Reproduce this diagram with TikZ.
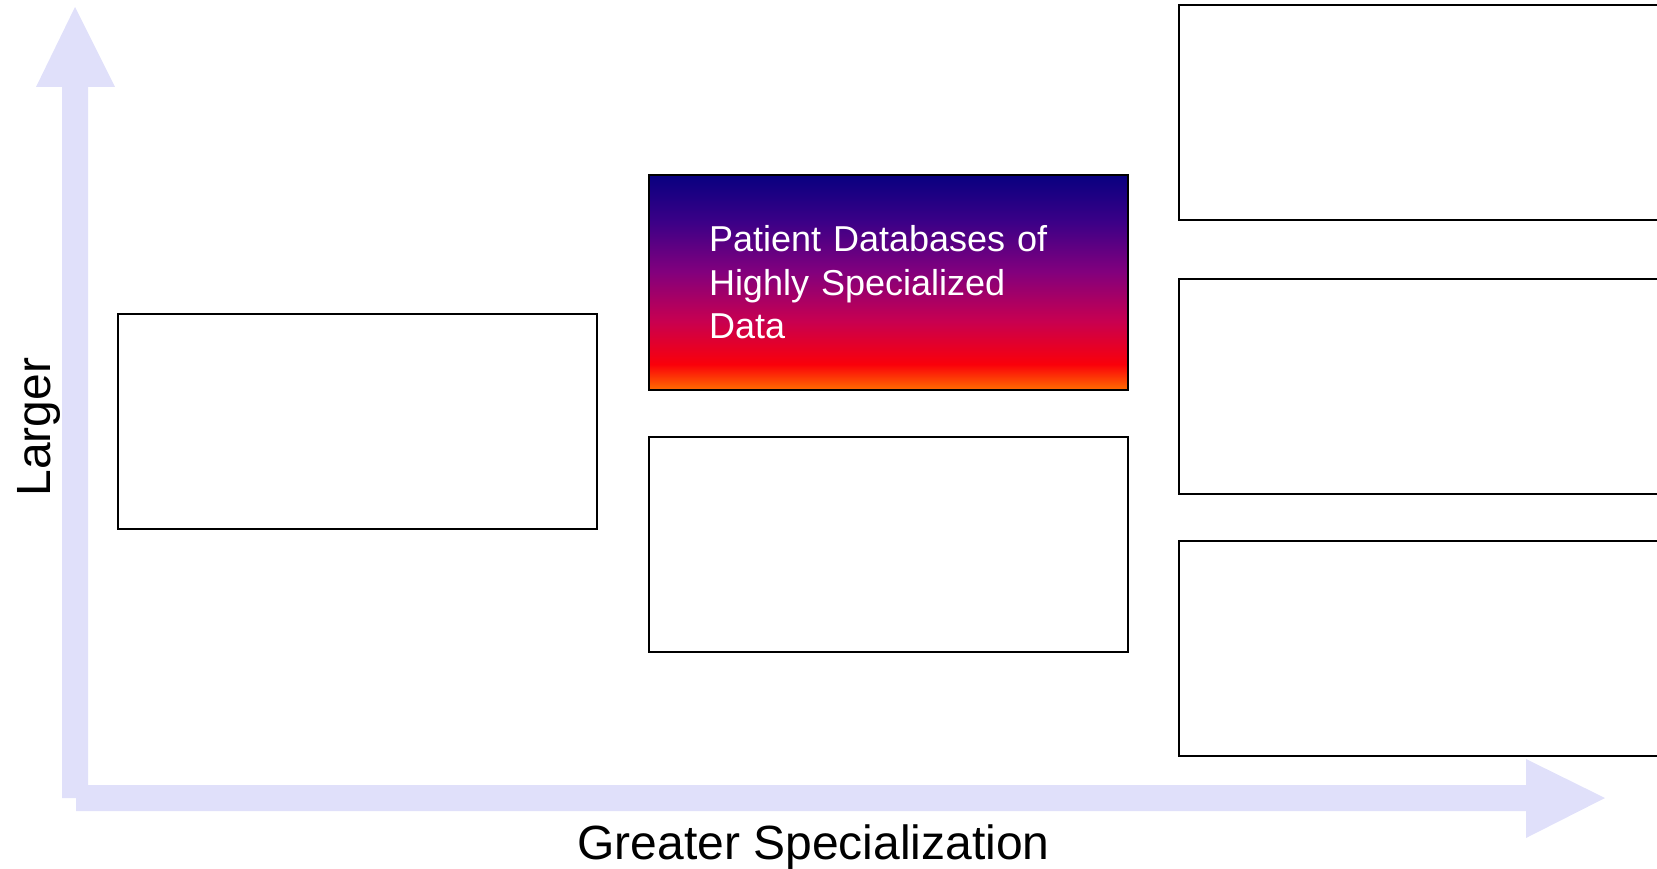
\documentclass[tikz,border=0pt]{standalone}
\usepackage{fontspec}
\setmainfont{Liberation Sans}
\usetikzlibrary{positioning}

\definecolor{axislavender}{RGB}{224,224,250}
\definecolor{sunsetnavy}{RGB}{8,0,128}
\definecolor{sunsetindigo}{RGB}{60,0,135}
\definecolor{sunsetpurple}{RGB}{130,0,125}
\definecolor{sunsetcrimson}{RGB}{200,0,80}
\definecolor{sunsetred}{RGB}{250,0,10}
\definecolor{sunsetorange}{RGB}{255,110,0}
\pgfdeclareverticalshading{sunset}{100bp}{color(0bp)=(sunsetorange); color(25bp)=(sunsetorange); color(31bp)=(sunsetred); color(41bp)=(sunsetcrimson); color(52.5bp)=(sunsetpurple); color(64bp)=(sunsetindigo); color(75bp)=(sunsetnavy); color(100bp)=(sunsetnavy)}

\begin{document}
\begin{tikzpicture}[
    x=1pt, y=-1pt,
    field/.style={rectangle, draw=black, line width=2pt, minimum width=479pt, minimum height=215pt, inner sep=0pt},
    axisarrow/.style={fill=axislavender},
    axislabel/.style={font=\fontsize{48}{58}\selectfont}
]
\clip (0,0) rectangle (1657,869);

% Axes
\fill[axisarrow] (75,7) -- (115,87) -- (88,87) -- (88,785) -- (1526,785) -- (1526,759) -- (1605,798)
    -- (1526,838) -- (1526,811) -- (76,811) -- (76,798) -- (62,798) -- (62,87) -- (36,87) -- cycle;

% Left column
\node[field] (general) at (357.5,421.5) {};

% Middle column
\node[field, shading=sunset, text=white, text width=359pt, align=left, font=\fontsize{36}{43.5}\selectfont] (patient) at (888.5,282.5) {Patient Databases of\\Highly Specialized\\Data};
\node[field, below=45pt of patient] (lower) {};

% Right column
\node[field] (rtop) at (1418.5,112.5) {};
\node[field, below=57pt of rtop] (rmid) {};
\node[field, below=45pt of rmid] (rbot) {};

% Axis labels
\node[axislabel, anchor=base] (xlabel) at (813.5,859) {Greater Specialization};
\node[axislabel, rotate=90, anchor=base] (ylabel) at (50,427) {Larger};

\end{tikzpicture}
\end{document}
